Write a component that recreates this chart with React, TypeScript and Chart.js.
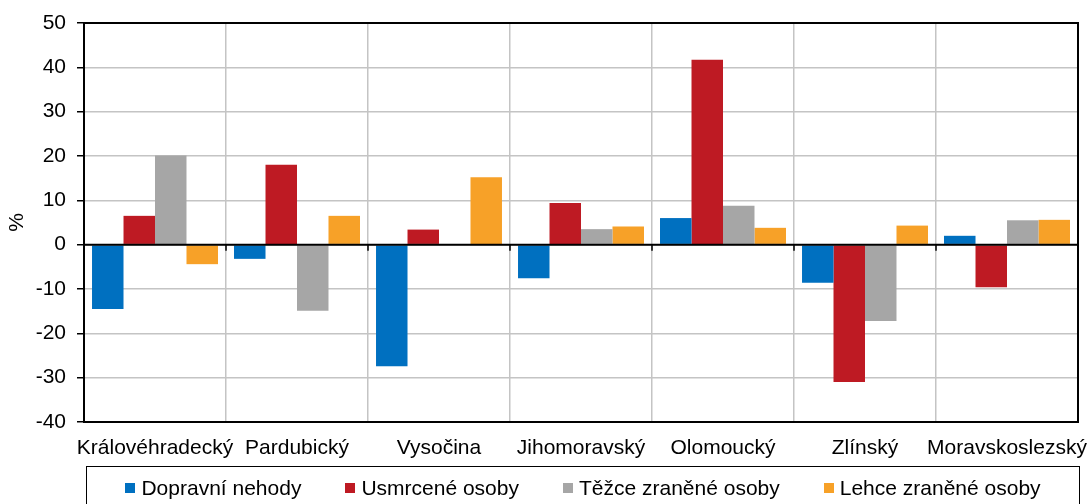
import React, { useEffect, useRef } from "react";
import { Chart, registerables } from "chart.js";

Chart.register(...registerables);

const categories = [
  "Královéhradecký",
  "Pardubický",
  "Vysočina",
  "Jihomoravský",
  "Olomoucký",
  "Zlínský",
  "Moravskoslezský",
];
const seriesNames = [
  "Dopravní nehody",
  "Usmrcené osoby",
  "Těžce zraněné osoby",
  "Lehce zraněné osoby",
];
const dopravniNehody = [-14.5, -3.2, -27.4, -7.6, 6.0, -8.6, 2.0];
const usmrceneOsoby = [6.5, 18.0, 3.4, 9.4, 41.7, -31.0, -9.6];
const tezceZranene = [20.1, -14.9, 0, 3.5, 8.8, -17.2, 5.5];
const lehceZranene = [-4.4, 6.5, 15.2, 4.1, 3.8, 4.3, 5.6];
const seriesColors = ["#0070C0", "#BE1A23", "#A6A6A6", "#F7A128"];
const yMin = -40;
const yMax = 50;
const yStep = 10;

const FONT = "'Liberation Sans', Arial, Helvetica, sans-serif";

const framePlugin = {
  id: "framePlugin",
  afterDatasetsDraw(chart: any) {
    const { ctx, chartArea } = chart;
    const yScale = chart.scales.y;
    const xScale = chart.scales.x;
    const zeroY = yScale.getPixelForValue(0);
    ctx.save();
    ctx.strokeStyle = "#000";
    ctx.lineWidth = 2;
    ctx.beginPath();
    ctx.moveTo(chartArea.left, zeroY);
    ctx.lineTo(chartArea.right, zeroY);
    ctx.stroke();
    ctx.lineWidth = 1.5;
    const n = categories.length;
    for (let i = 1; i < n; i++) {
      const x =
        (xScale.getPixelForValue(i - 1) + xScale.getPixelForValue(i)) / 2;
      ctx.beginPath();
      ctx.moveTo(x, zeroY);
      ctx.lineTo(x, zeroY + 6);
      ctx.stroke();
    }
    ctx.lineWidth = 2;
    ctx.strokeRect(
      chartArea.left,
      chartArea.top,
      chartArea.right - chartArea.left,
      chartArea.bottom - chartArea.top
    );
    ctx.restore();
  },
};

export default function App() {
  const canvasRef = useRef<HTMLCanvasElement | null>(null);

  useEffect(() => {
    if (!canvasRef.current) return;
    const values = [dopravniNehody, usmrceneOsoby, tezceZranene, lehceZranene];
    const chart = new Chart(canvasRef.current, {
      type: "bar",
      data: {
        labels: categories,
        datasets: seriesNames.map((name, i) => ({
          label: name,
          data: values[i],
          backgroundColor: seriesColors[i],
          borderWidth: 0,
          categoryPercentage: 0.887,
          barPercentage: 1,
        })),
      },
      options: {
        animation: false,
        responsive: true,
        maintainAspectRatio: false,
        layout: { padding: { left: 0, right: 13, top: 23, bottom: 42 } },
        plugins: {
          legend: { display: false },
          tooltip: { enabled: false },
        },
        scales: {
          x: {
            offset: true,
            grid: {
              offset: true,
              color: "#C4C4C4",
              lineWidth: 1.5,
              drawTicks: false,
            },
            border: { display: false },
            ticks: {
              color: "#000",
              font: { family: FONT, size: 21 },
              padding: 14,
              maxRotation: 0,
              autoSkip: false,
            },
            afterFit: (axis: any) => {
              axis.height = 40;
              axis.paddingLeft = 0;
              axis.paddingRight = 0;
            },
          },
          y: {
            min: yMin,
            max: yMax,
            grid: {
              color: "#C4C4C4",
              lineWidth: 1.5,
              tickColor: "#000",
              tickLength: 7,
              tickWidth: 1.5,
            },
            border: { display: false },
            ticks: {
              stepSize: yStep,
              color: "#000",
              font: { family: FONT, size: 21 },
              padding: 11,
            },
            title: {
              display: true,
              text: "%",
              color: "#000",
              font: { family: FONT, size: 21 },
              padding: { top: 5, bottom: 0 },
            },
            afterFit: (axis: any) => {
              axis.width = 84;
              axis.paddingTop = 0;
              axis.paddingBottom = 0;
            },
          },
        },
      },
      plugins: [framePlugin],
    });
    return () => chart.destroy();
  }, []);

  return (
    <div
      style={{
        position: "fixed",
        left: 0,
        top: 0,
        width: 1091,
        height: 504,
        overflow: "hidden",
        background: "#fff",
      }}
    >
      <canvas ref={canvasRef} />
      <div
        style={{
          position: "absolute",
          left: 86,
          top: 466,
          width: 994,
          height: 60,
          boxSizing: "border-box",
          border: "1.5px solid #000",
          display: "flex",
          justifyContent: "center",
          alignItems: "flex-start",
          paddingTop: 8,
          fontFamily: FONT,
          fontSize: 21,
          lineHeight: "25px",
          color: "#000",
          gap: 44,
        }}
      >
        {seriesNames.map((name, i) => (
          <div key={name} style={{ display: "flex", alignItems: "center" }}>
            <span
              style={{
                display: "inline-block",
                width: 10,
                height: 10,
                background: seriesColors[i],
                marginRight: 6,
              }}
            />
            <span>{name}</span>
          </div>
        ))}
      </div>
    </div>
  );
}
